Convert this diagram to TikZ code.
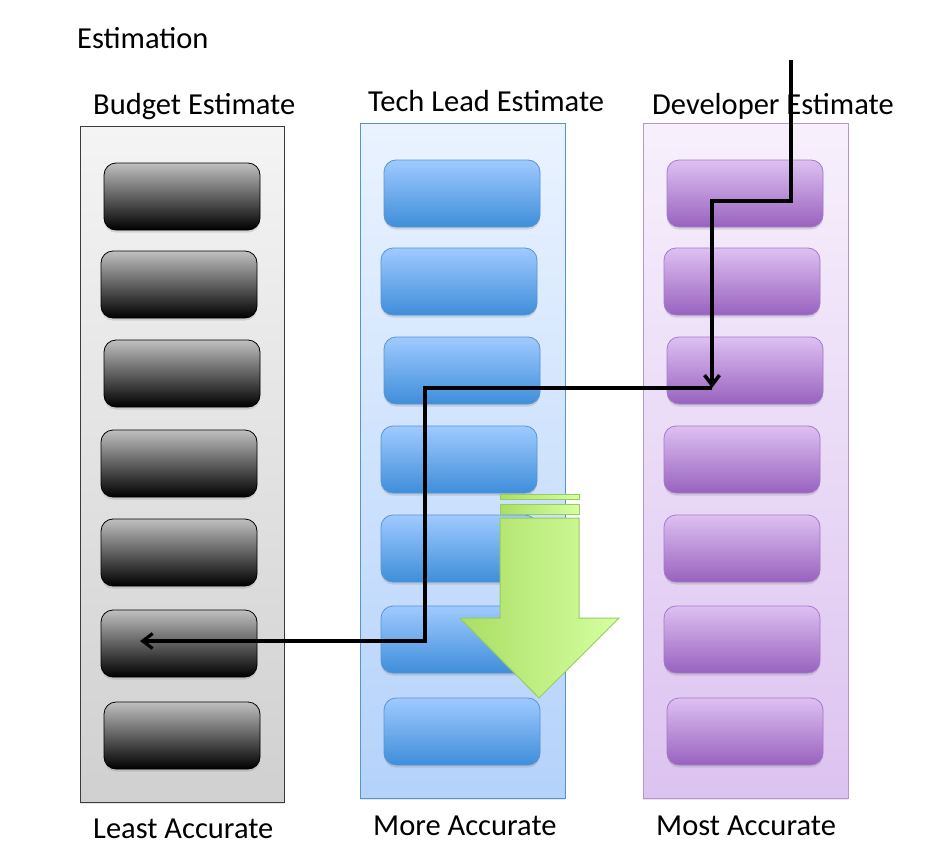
\documentclass[tikz,border=0pt]{standalone}
\usepackage{fontspec}
\setmainfont{Carlito}
\usetikzlibrary{arrows.meta,shadows}

\definecolor{budgetTop}{RGB}{192,192,192}
\definecolor{budgetMid}{RGB}{105,105,105}
\definecolor{leadTop}{RGB}{160,202,255}
\definecolor{leadBottom}{RGB}{62,142,218}
\definecolor{leadLine}{RGB}{88,148,212}
\definecolor{devTop}{RGB}{222,192,242}
\definecolor{devBottom}{RGB}{152,98,190}
\definecolor{devLine}{RGB}{162,122,200}
\definecolor{arrowLeft}{RGB}{170,222,100}
\definecolor{arrowRight}{RGB}{214,255,162}
\definecolor{arrowLine}{RGB}{150,205,92}

\tikzset{
	label text/.style={font=\fontsize{30.5}{36}\selectfont, inner sep=0pt, anchor=base west},
	frame/.style={rectangle, minimum width=204pt, minimum height=675pt, line width=1pt,
		drop shadow={opacity=0.2, shadow xshift=0pt, shadow yshift=-2pt}},
	budget frame/.style={frame, draw={rgb,255:red,60;green,60;blue,60}, top color={rgb,255:red,244;green,244;blue,244}, bottom color={rgb,255:red,208;green,208;blue,208}},
	lead frame/.style={frame, draw=leadLine, top color={rgb,255:red,234;green,243;blue,255}, bottom color={rgb,255:red,180;green,210;blue,250}},
	dev frame/.style={frame, draw=devLine!80, top color={rgb,255:red,247;green,240;blue,252}, bottom color={rgb,255:red,220;green,195;blue,240}},
	box/.style={rectangle, rounded corners=12pt, minimum width=156pt, minimum height=67pt, line width=0.8pt,
		drop shadow={opacity=0.25, shadow xshift=0pt, shadow yshift=-2.5pt}},
	budget box/.style={box, draw=black, top color=budgetTop, middle color=budgetMid, bottom color=black},
	lead box/.style={box, draw=leadLine, top color=leadTop, bottom color=leadBottom},
	dev box/.style={box, draw=devLine, top color=devTop, bottom color=devBottom},
	flow/.style={line width=3.2pt, -{Straight Barb[length=10pt,width=15pt]}}
}

\begin{document}
\begin{tikzpicture}[x=1pt,y=1pt,yscale=-1,xscale=1]
	\path[fill=white] (0,0) rectangle (932,851);
	\useasboundingbox (0,0) rectangle (932,851);

	%Shape: Rectangle [columns]
	\node[budget frame, minimum height=676pt] (budget) at (182,464) {};
	\node[lead frame, minimum width=205pt] (lead) at (462.5,460.5) {};
	\node[dev frame, minimum width=205pt] (dev) at (745.5,460.5) {};

	%Shape: Rounded Rectangle [budget estimate]
	\node[budget box] (b1) at (182,196.5) {};
	\node[budget box] (b2) at (179,284.5) {};
	\node[budget box] (b3) at (182,373.5) {};
	\node[budget box] (b4) at (179,463.5) {};
	\node[budget box] (b5) at (179,552.5) {};
	\node[budget box] (b6) at (179,643.5) {};
	\node[budget box] (b7) at (182,735.5) {};

	%Shape: Rounded Rectangle [tech lead estimate]
	\node[lead box] (l1) at (462,193.5) {};
	\node[lead box] (l2) at (459,281.5) {};
	\node[lead box] (l3) at (462,370.5) {};
	\node[lead box] (l4) at (459,459.5) {};
	\node[lead box] (l5) at (459,548.5) {};
	\node[lead box] (l6) at (459,639.5) {};
	\node[lead box] (l7) at (462,731.5) {};

	%Shape: Rounded Rectangle [developer estimate]
	\node[dev box] (d1) at (745,193.5) {};
	\node[dev box] (d2) at (742,281.5) {};
	\node[dev box] (d3) at (745,370.5) {};
	\node[dev box] (d4) at (742,459.5) {};
	\node[dev box] (d5) at (742,548.5) {};
	\node[dev box] (d6) at (742,639.5) {};
	\node[dev box] (d7) at (745,731.5) {};

	%Down Arrow [accuracy]
	\draw [draw=arrowLine, line width=1pt, left color=arrowLeft, right color=arrowRight] (500,494) rectangle (579,499);
	\draw [draw=arrowLine, line width=1pt, left color=arrowLeft, right color=arrowRight] (500,504) rectangle (579,514);
	\draw [draw=arrowLine, line width=1pt, left color=arrowLeft, right color=arrowRight] (500,518) -- (579,518) -- (579,618) -- (619,618) -- (539,698) -- (460,618) -- (500,618) -- cycle ;

	% path of the estimate
	\coordinate (start) at (791,60);
	\coordinate (bend) at (712,201);
	\coordinate (drop) at (712,388);
	\coordinate (turn) at (425,641);
	\coordinate (target) at (140,641);
	\draw [flow, line width=3.5pt] (start) |- (bend) -- (drop);
	\draw [flow] (drop) -| (turn) -- (target);

	% Text Node
	\node[label text] (title) at (77,49) {Estimation};
	% Text Node
	\node[label text] (budgetname) at (93,114) {Budget Estimate};
	% Text Node
	\node[label text] (leadname) at (368,111) {Tech Lead Estimate};
	% Text Node
	\node[label text] (devname) at (652,114) {Developer Estimate};
	% Text Node
	\node[label text] (least) at (93,838) {Least Accurate};
	% Text Node
	\node[label text] (more) at (373,835) {More Accurate};
	% Text Node
	\node[label text] (most) at (656,835) {Most Accurate};
\end{tikzpicture}
\end{document}
